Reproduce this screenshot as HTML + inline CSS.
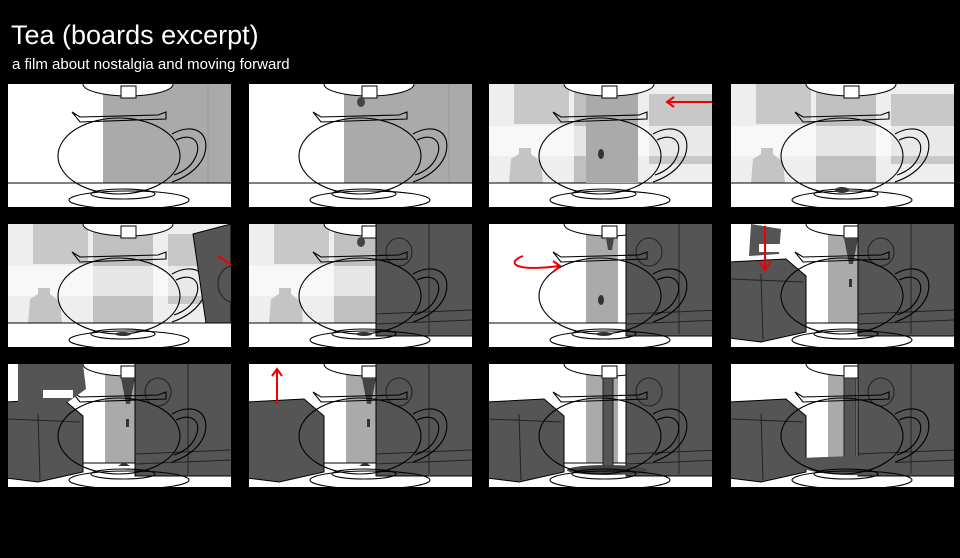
<!DOCTYPE html>
<html><head><style>
html,body{margin:0;padding:0;background:#000;width:960px;height:558px;overflow:hidden}
.t{position:absolute;left:11px;top:20px;color:#fff;font-family:"Liberation Sans",sans-serif;font-size:27px}
.s{position:absolute;left:12px;top:56px;color:#fff;font-family:"Liberation Sans",sans-serif;font-size:15px}
svg{position:absolute;left:0;top:0}
</style></head><body>
<svg width="960" height="558" viewBox="0 0 960 558">
<defs>
<clipPath id="c"><rect width="223" height="123"/></clipPath>
<g id="pot" fill="none" stroke="#000" stroke-width="1.1">
<ellipse cx="121" cy="116" rx="60" ry="9"/>
<ellipse cx="115" cy="110" rx="32" ry="5"/>
<ellipse cx="111" cy="72" rx="61" ry="38"/>
<path d="M64 28 L72 33 L150 31 L158 28 L158 35 L72 38 Z"/>
<path d="M164 50 C185 38 204 48 196 72 C190 86 176 94 164 98"/>
<path d="M168 56 C184 48 194 58 188 72 C184 82 175 88 166 91"/>
</g>
<g id="disp">
<ellipse cx="120" cy="0" rx="45" ry="12" fill="#fff" stroke="#000"/>
<rect x="113" y="2" width="15" height="12" fill="#fff" stroke="#000"/>
</g>
<g id="bg1"><rect width="223" height="123" fill="#fff"/><rect x="95" y="0" width="128" height="99" fill="#aaa"/><line x1="200" y1="0" x2="200" y2="99" stroke="#999"/><line x1="0" y1="99" x2="223" y2="99" stroke="#000"/></g>
<g id="bg2"><rect width="223" height="123" fill="#fff"/><rect x="0" y="0" width="223" height="99" fill="#eee"/><rect x="25" y="0" width="55" height="40" fill="#c8c8c8"/><rect x="85" y="0" width="60" height="99" fill="#c0c0c0"/><rect x="160" y="10" width="63" height="70" fill="#c8c8c8"/><rect x="0" y="42" width="223" height="30" fill="#fff" opacity=".6"/><path d="M20 99 L22 75 L30 70 L30 64 L42 64 L42 70 L52 78 L54 99Z" fill="#c4c4c4"/><line x1="0" y1="99" x2="223" y2="99" stroke="#000"/></g>
<g id="bg3"><rect width="223" height="123" fill="#fff"/><rect x="97" y="0" width="32" height="99" fill="#aaa"/><line x1="0" y1="99" x2="223" y2="99" stroke="#000"/></g>
<g id="box"><rect x="127" y="-2" width="100" height="114" fill="#555" stroke="#000"/><path d="M127 100 L223 96 M127 90 L223 86 M180 0 L180 110" stroke="#222" fill="none"/><ellipse cx="150" cy="28" rx="13" ry="14" fill="#555" stroke="#222"/></g>
<g id="boxL"><path d="M-2 38 L55 35 L75 52 L75 108 L30 118 L-2 114Z" fill="#555" stroke="#000"/><path d="M0 55 L72 58 M30 50 L32 116" stroke="#222" fill="none"/></g>
</defs>
<!-- row 1 -->
<g transform="translate(8,84)" clip-path="url(#c)"><use href="#bg1"/><use href="#disp"/><use href="#pot"/></g>
<g transform="translate(249,84)" clip-path="url(#c)"><use href="#bg1"/><use href="#disp"/><ellipse cx="112" cy="18" rx="4" ry="5" fill="#444"/><use href="#pot"/></g>
<g transform="translate(489,84)" clip-path="url(#c)"><use href="#bg2"/><rect x="97" y="0" width="52" height="99" fill="#aaa"/><use href="#disp"/><ellipse cx="112" cy="70" rx="3" ry="5" fill="#333"/><use href="#pot"/><line x1="225" y1="18" x2="180" y2="18" stroke="#e00" stroke-width="2"/><path d="M185 13 L178 18 L185 23" fill="none" stroke="#e00" stroke-width="2"/></g>
<g transform="translate(731,84)" clip-path="url(#c)"><use href="#bg2"/><use href="#disp"/><use href="#pot"/><ellipse cx="111" cy="106" rx="7" ry="3" fill="#333"/></g>
<!-- row 2 -->
<g transform="translate(8,224)" clip-path="url(#c)"><use href="#bg2"/><use href="#disp"/><use href="#pot"/><ellipse cx="115" cy="110" rx="8" ry="2" fill="#333"/><path d="M185 10 L223 0 L223 99 L198 99 Z" fill="#555" stroke="#000"/><ellipse cx="225" cy="60" rx="15" ry="18" fill="#555" stroke="#222"/><line x1="225" y1="42" x2="210" y2="32" stroke="#e00" stroke-width="2"/></g>
<g transform="translate(249,224)" clip-path="url(#c)"><use href="#bg2"/><use href="#disp"/><ellipse cx="112" cy="18" rx="4" ry="5" fill="#444"/><use href="#box"/><use href="#pot"/><ellipse cx="115" cy="110" rx="8" ry="2" fill="#333"/></g>
<g transform="translate(489,224)" clip-path="url(#c)"><use href="#bg3"/><use href="#disp"/><path d="M117 14 L125 14 L123 26 L119 26Z" fill="#444"/><ellipse cx="112" cy="76" rx="3" ry="5" fill="#333"/><g transform="translate(10,0)"><use href="#box"/></g><use href="#pot"/><ellipse cx="115" cy="110" rx="8" ry="2" fill="#333"/><path d="M34 32 C18 38 22 48 70 42" fill="none" stroke="#e00" stroke-width="2"/><path d="M64 37 L71 42 L64 48" fill="none" stroke="#e00" stroke-width="2"/></g>
<g transform="translate(731,224)" clip-path="url(#c)"><use href="#bg3"/><use href="#disp"/><path d="M113 14 L127 14 L122 40 L118 40Z" fill="#444"/><rect x="118" y="55" width="3" height="8" fill="#333"/><use href="#box"/><use href="#boxL"/><use href="#pot"/><path d="M20 0 L50 5 L48 30 L18 32Z" fill="#555"/><rect x="28" y="20" width="25" height="8" fill="#fff"/><line x1="34" y1="2" x2="34" y2="44" stroke="#e00" stroke-width="2"/><path d="M28 37 L34 46 L40 37" fill="none" stroke="#e00" stroke-width="2"/></g>
<!-- row 3 -->
<g transform="translate(8,364)" clip-path="url(#c)"><use href="#bg3"/><use href="#disp"/><path d="M113 14 L127 14 L122 40 L118 40Z" fill="#444"/><rect x="118" y="55" width="3" height="8" fill="#333"/><use href="#box"/><use href="#boxL"/><use href="#pot"/><path d="M10 0 L75 0 L78 25 L60 38 L10 40Z" fill="#555"/><rect x="35" y="26" width="30" height="8" fill="#fff"/><path d="M110 102 L116 98 L122 102 Z" fill="#333"/></g>
<g transform="translate(249,364)" clip-path="url(#c)"><use href="#bg3"/><use href="#disp"/><path d="M113 14 L127 14 L122 40 L118 40Z" fill="#444"/><rect x="118" y="55" width="3" height="8" fill="#333"/><use href="#box"/><path d="M-2 38 L55 35 L75 52 L75 108 L30 118 L-2 114Z" fill="#555" stroke="#000"/><use href="#pot"/><line x1="28" y1="40" x2="28" y2="6" stroke="#e00" stroke-width="2"/><path d="M23 12 L28 5 L33 12" fill="none" stroke="#e00" stroke-width="2"/><path d="M110 102 L116 98 L122 102 Z" fill="#333"/></g>
<g transform="translate(489,364)" clip-path="url(#c)"><use href="#bg3"/><use href="#disp"/><rect x="114" y="14" width="10" height="94" fill="#555" stroke="#222"/><g transform="translate(10,0)"><use href="#box"/></g><use href="#boxL"/><ellipse cx="118" cy="106" rx="40" ry="5" fill="#444"/><use href="#pot"/></g>
<g transform="translate(731,364)" clip-path="url(#c)"><use href="#bg3"/><use href="#disp"/><rect x="113" y="14" width="12" height="82" fill="#555" stroke="#222"/><use href="#box"/><use href="#boxL"/><path d="M58 95 C90 92 150 92 172 90 C160 108 140 112 115 111 C85 110 65 105 58 95Z" fill="#555"/><use href="#pot"/></g>
</svg>
<div class="t">Tea (boards excerpt)</div>
<div class="s">a film about nostalgia and moving forward</div>
</body></html>
